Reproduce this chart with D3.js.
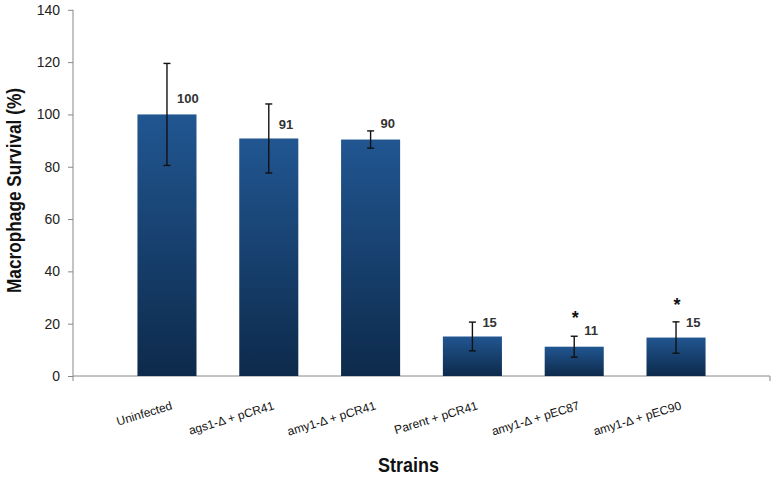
<!doctype html>
<meta charset="utf-8">
<script src="https://d3js.org/d3.v7.min.js"></script>
<style>
  body { margin: 0; background: #fff; }
  text { font-family: "Liberation Sans", Arial, sans-serif; }
</style>
<body>
<svg width="775" height="477"></svg>
<script>
// data
var strains = ["Uninfected", "ags1-\u0394 + pCR41", "amy1-\u0394 + pCR41",
  "Parent + pCR41", "amy1-\u0394 + pEC87", "amy1-\u0394 + pEC90"];
var survival = [100, 90.8, 90.4, 15.1, 11.2, 14.7];
var errors = [19.5, 13.2, 3.3, 5.5, 4.0, 6.0];
var labels = ["100", "91", "90", "15", "11", "15"];
var labelAt = [106, 96.2, 96.6, 20.5, 17.3, 20.6];   // where Excel put the labels (value units)
var starAt = [null, null, null, null, 23.5, 28.3];  // significance marks
var yTicks = [0, 20, 40, 60, 80, 100, 120, 140];

var svg = d3.select("svg");
var plotLeft = 73, plotRight = 770, plotTop = 9.8, plotBottom = 376;

var x = d3.scaleBand().domain(strains).range([plotLeft, plotRight])
  .paddingInner(0.42).paddingOuter(0.633);
var y = d3.scaleLinear().domain([0, 140]).range([plotBottom, plotTop]);

// gradient for the bars
var grad = svg.append("defs").append("linearGradient")
  .attr("id", "barfill").attr("x1", 0).attr("y1", 0).attr("x2", 0).attr("y2", 1);
grad.append("stop").attr("offset", "0%").attr("stop-color", "#215691");
grad.append("stop").attr("offset", "100%").attr("stop-color", "#0d2a4b");

// y axis
var yAxis = svg.append("g")
  .attr("transform", "translate(" + plotLeft + ",0)")
  .call(d3.axisLeft(y).tickValues(yTicks).tickSize(5).tickPadding(8));
yAxis.select(".domain").attr("stroke", "#888").attr("d", "M0," + plotTop + "V" + (plotBottom + 5));
yAxis.selectAll(".tick line").attr("stroke", "#888");
yAxis.selectAll(".tick text").attr("font-size", "14px").attr("fill", "#222")
  .attr("font-family", "Liberation Sans, Arial, sans-serif");

// x axis line
svg.append("path")
  .attr("d", "M" + plotLeft + "," + plotBottom + "H" + plotRight + "V" + (plotBottom + 5))
  .attr("stroke", "#888").attr("fill", "none");

// bars
svg.selectAll(".bar")
  .data(strains)
  .enter().append("rect")
  .attr("class", "bar")
  .attr("x", function (d) { return x(d); })
  .attr("width", x.bandwidth())
  .attr("y", function (d, i) { return y(survival[i]); })
  .attr("height", function (d, i) { return plotBottom - y(survival[i]); })
  .attr("fill", "url(#barfill)");

// error bars
var eb = svg.selectAll(".err")
  .data(strains)
  .enter().append("g")
  .attr("class", "err")
  .attr("stroke", "#111").attr("stroke-width", 1.4);
eb.append("line")
  .attr("x1", function (d) { return x(d) + x.bandwidth() / 2; })
  .attr("x2", function (d) { return x(d) + x.bandwidth() / 2; })
  .attr("y1", function (d, i) { return y(survival[i] + errors[i]); })
  .attr("y2", function (d, i) { return y(survival[i] - errors[i]); });
[1, -1].forEach(function (s) {
  eb.append("line")
    .attr("x1", function (d) { return x(d) + x.bandwidth() / 2 - 3.5; })
    .attr("x2", function (d) { return x(d) + x.bandwidth() / 2 + 3.5; })
    .attr("y1", function (d, i) { return y(survival[i] + s * errors[i]); })
    .attr("y2", function (d, i) { return y(survival[i] + s * errors[i]); });
});

// value labels
svg.selectAll(".val")
  .data(strains)
  .enter().append("text")
  .attr("class", "val")
  .attr("x", function (d) { return x(d) + x.bandwidth() / 2 + 10; })
  .attr("y", function (d, i) { return y(labelAt[i]) + 4.5; })
  .attr("font-size", "13px").attr("font-weight", "bold").attr("fill", "#333")
  .text(function (d, i) { return labels[i]; });

// asterisks
svg.selectAll(".star")
  .data(strains.filter(function (d, i) { return starAt[i] != null; }))
  .enter().append("text")
  .attr("class", "star")
  .attr("x", function (d) { return x(d) + x.bandwidth() / 2 + 1; })
  .attr("y", function (d) { return y(starAt[strains.indexOf(d)]) + 9; })
  .attr("text-anchor", "middle")
  .attr("font-size", "18px").attr("font-weight", "bold").attr("fill", "#111")
  .text("*");

// category labels, rotated
svg.selectAll(".cat")
  .data(strains)
  .enter().append("text")
  .attr("class", "cat")
  .attr("transform", function (d) {
    return "translate(" + (x(d) + x.bandwidth() / 2 + 6) + "," + (plotBottom + 33) + ") rotate(-17)";
  })
  .attr("text-anchor", "end")
  .attr("font-size", "12px").attr("fill", "#111")
  .text(function (d) { return d; });

// axis titles (narrow bold, squeezed to the original widths)
svg.append("text")
  .attr("x", 408.5).attr("y", 471.5)
  .attr("text-anchor", "middle")
  .attr("font-size", "20px").attr("font-weight", "bold").attr("fill", "#111")
  .attr("textLength", 61).attr("lengthAdjust", "spacingAndGlyphs")
  .text("Strains");

svg.append("text")
  .attr("transform", "translate(21,190.5) rotate(-90)")
  .attr("text-anchor", "middle")
  .attr("font-size", "21px").attr("font-weight", "bold").attr("fill", "#111")
  .attr("textLength", 205).attr("lengthAdjust", "spacingAndGlyphs")
  .text("Macrophage Survival (%)");
</script>
</body>
